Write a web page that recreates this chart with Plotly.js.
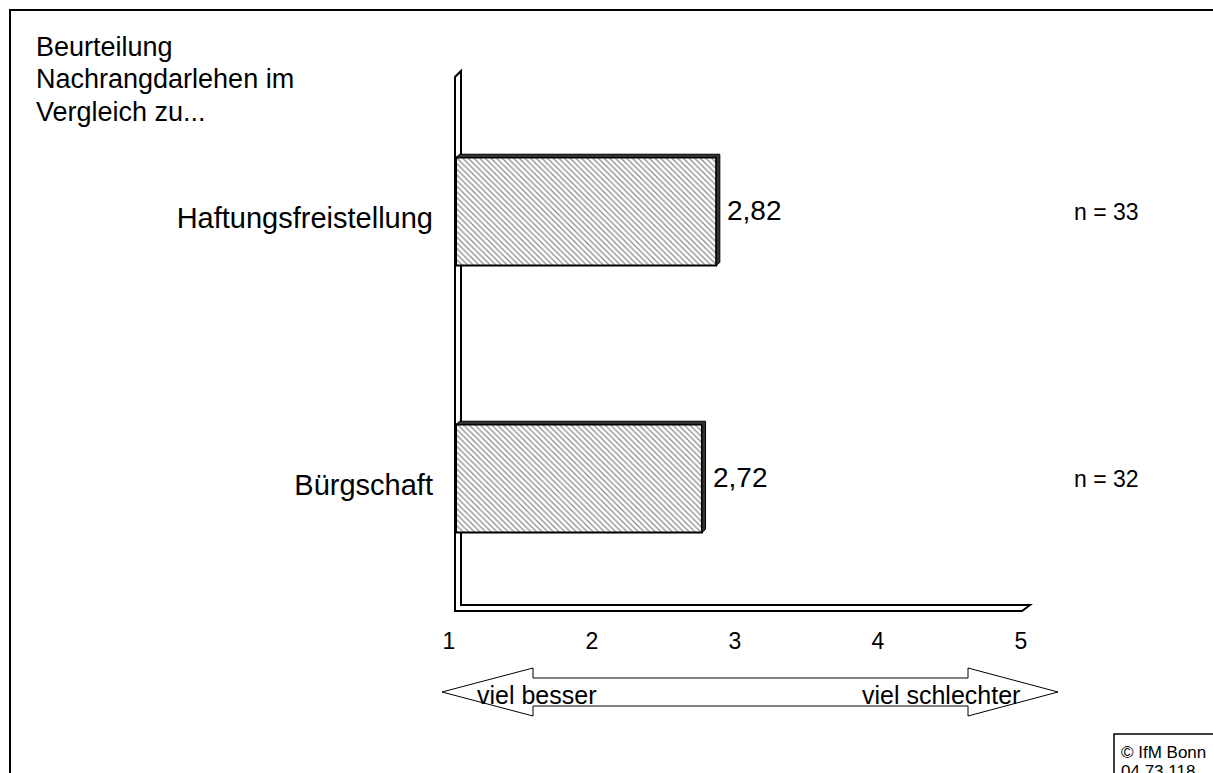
<!DOCTYPE html>
<html>
<head>
<meta charset="utf-8">
<script src="https://cdn.plot.ly/plotly-3.0.1.min.js"></script>
<style>html,body{margin:0;padding:0;background:#fff;}#chart{width:1213px;height:773px;}</style>
</head>
<body>
<div id="chart"></div>
<script>
// ---- data ----
const categories = ['Bürgschaft', 'Haftungsfreistellung'];
const values = [2.72, 2.82];
const nLabels = ['n = 32', 'n = 33'];
const tickVals = [1, 2, 3, 4, 5];
const tickText = ['1', '2', '3', '4', '5'];
const titleLines = ['Beurteilung', 'Nachrangdarlehen im', 'Vergleich zu...'];
const scaleLabels = ['viel besser', 'viel schlechter'];
const copyrightLines = ['© IfM Bonn', '04 73 118'];

// ---- layout helpers (pixel -> paper) ----
const W = 1213, H = 773;
const ML = 456, MR = 185, MT = 78, MB = 161;
const PW = W - ML - MR, PH = H - MT - MB;
const px = x => (x - ML) / PW;
const py = y => (H - MB - y) / PH;
const FONT = 'Liberation Sans, Arial, sans-serif';

const barWidth = 0.405;
const dx = 0.025, dy = 0.012;

const shapes = [];
// page frame
shapes.push({type:'path', xref:'paper', yref:'paper',
  path:`M ${px(10)},${py(775)} L ${px(10)},${py(10)} L ${px(1215)},${py(10)}`,
  line:{color:'#000', width:2}});
// 3D wall + floor
shapes.push({type:'path', xref:'paper', yref:'paper', layer:'below',
  path:`M ${px(455)},${py(611)} L ${px(455)},${py(77)} L ${px(461)},${py(71)} L ${px(461)},${py(605)} L ${px(1030)},${py(605)} L ${px(1022)},${py(611)} Z`,
  fillcolor:'#fff', line:{color:'#000', width:2}});
// 3D bar edges from data
values.forEach((v, i) => {
  const top = i + barWidth / 2, bot = i - barWidth / 2;
  shapes.push({type:'path', xref:'x', yref:'y',
    path:`M 1,${top} L ${1+dx},${top+dy} L ${v+dx},${top+dy} L ${v+dx},${bot+dy} L ${v},${bot} L ${v},${top} Z`,
    fillcolor:'#333', line:{color:'#000', width:1}});
});
// double arrow
shapes.push({type:'path', xref:'paper', yref:'paper',
  path:`M ${px(442)},${py(692)} L ${px(533)},${py(668)} L ${px(533)},${py(678)} L ${px(968)},${py(678)} L ${px(968)},${py(668)} L ${px(1058)},${py(692)} L ${px(968)},${py(716)} L ${px(968)},${py(706)} L ${px(533)},${py(706)} L ${px(533)},${py(716)} Z`,
  fillcolor:'#fff', line:{color:'#000', width:1}});
// copyright box
shapes.push({type:'rect', xref:'paper', yref:'paper',
  x0:px(1114), y0:py(775), x1:px(1215), y1:py(734),
  line:{color:'#000', width:1.5}, fillcolor:'#fff'});

const annotations = [];
titleLines.forEach((t, i) => annotations.push({
  xref:'paper', yref:'paper', x:px(34), y:py(47 + i * 32.5), xanchor:'left', yanchor:'middle',
  text:t, showarrow:false, font:{family:FONT, size:27, color:'#000'}}));
// value labels from data
values.forEach((v, i) => annotations.push({
  xref:'x', yref:'y', x:v, y:i, xanchor:'left', yanchor:'middle', xshift:9, yshift:1,
  text:v.toFixed(2).replace('.', ','), showarrow:false, font:{family:FONT, size:28, color:'#000'}}));
nLabels.forEach((t, i) => annotations.push({
  xref:'paper', yref:'y', x:px(1106), y:i, xanchor:'center', yanchor:'middle', yshift:0,
  text:t, showarrow:false, font:{family:FONT, size:23, color:'#000'}}));
annotations.push({xref:'paper', yref:'paper', x:px(537), y:py(695), xanchor:'center', yanchor:'middle',
  text:scaleLabels[0], showarrow:false, font:{family:FONT, size:25, color:'#000'}});
annotations.push({xref:'paper', yref:'paper', x:px(941), y:py(695), xanchor:'center', yanchor:'middle',
  text:scaleLabels[1], showarrow:false, font:{family:FONT, size:25, color:'#000'}});
copyrightLines.forEach((t, i) => annotations.push({
  xref:'paper', yref:'paper', x:px(1119), y:py(752 + i * 19), xanchor:'left', yanchor:'middle',
  text:t, showarrow:false, font:{family:FONT, size:17, color:'#000'}}));

const trace = {
  type:'bar', orientation:'h',
  y: categories, x: values.map(v => v - 1), base: 1,
  width: barWidth,
  marker:{color:'#fff', line:{color:'#000', width:2},
    pattern:{shape:'\\', fgcolor:'#8a8a8a', bgcolor:'#fff', size:4, solidity:0.3}},
  hoverinfo:'skip'
};

const layout = {
  width:W, height:H,
  margin:{l:ML, r:MR, t:MT, b:MB, pad:0},
  paper_bgcolor:'#fff', plot_bgcolor:'rgba(0,0,0,0)',
  showlegend:false,
  font:{family:FONT, color:'#000'},
  xaxis:{range:[1,5], tickvals:tickVals, ticktext:tickText, showgrid:false, zeroline:false,
    showline:false, ticks:'', ticklabelstandoff:13, ticklabelshift:-7,
    tickfont:{family:FONT, size:23, color:'#000'}, fixedrange:true},
  yaxis:{type:'category', categoryarray:categories, range:[-0.5,1.5], showgrid:false, zeroline:false,
    showline:false, ticks:'', ticklabelstandoff:22, ticklabelshift:6,
    tickfont:{family:FONT, size:29, color:'#000'}, fixedrange:true},
  shapes:shapes, annotations:annotations
};

Plotly.newPlot('chart', [trace], layout, {displayModeBar:false, staticPlot:true});
</script>
</body>
</html>
